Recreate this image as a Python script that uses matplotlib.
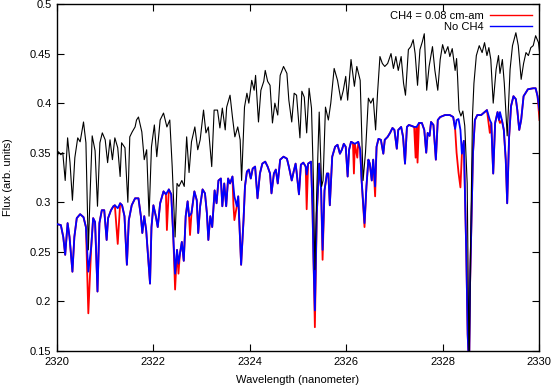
import matplotlib
matplotlib.use("Agg")
import matplotlib.pyplot as plt

plt.rcParams['font.family'] = ['Liberation Sans', 'DejaVu Sans']

# ---- No-CH4 reference (black, unlabeled) ----
wl_black = [2320.00, 2320.03, 2320.08, 2320.12, 2320.17, 2320.22, 2320.27, 2320.32, 2320.37, 2320.43,
            2320.48, 2320.55, 2320.60, 2320.65, 2320.68, 2320.73, 2320.79, 2320.84, 2320.89, 2320.94,
            2321.00, 2321.05, 2321.10, 2321.15, 2321.20, 2321.26, 2321.31, 2321.34, 2321.41, 2321.47,
            2321.51, 2321.56, 2321.62, 2321.65, 2321.69, 2321.76, 2321.81, 2321.86, 2321.91, 2321.96,
            2322.02, 2322.07, 2322.14, 2322.21, 2322.28, 2322.34, 2322.39, 2322.45, 2322.49, 2322.53,
            2322.59, 2322.64, 2322.69, 2322.74, 2322.79, 2322.86, 2322.92, 2322.97, 2323.04, 2323.09,
            2323.14, 2323.21, 2323.26, 2323.33, 2323.38, 2323.43, 2323.49, 2323.52, 2323.59, 2323.64,
            2323.69, 2323.75, 2323.80, 2323.83, 2323.89, 2323.94, 2323.98, 2324.04, 2324.09, 2324.12,
            2324.18, 2324.23, 2324.29, 2324.32, 2324.37, 2324.42, 2324.47, 2324.52, 2324.58, 2324.63,
            2324.70, 2324.77, 2324.81, 2324.87, 2324.92, 2324.97, 2324.99, 2325.04, 2325.08, 2325.13,
            2325.18, 2325.23, 2325.28, 2325.32, 2325.35, 2325.39, 2325.44, 2325.49, 2325.52, 2325.57,
            2325.63, 2325.68, 2325.75, 2325.82, 2325.89, 2325.94, 2325.99, 2326.03, 2326.10, 2326.17,
            2326.22, 2326.29, 2326.35, 2326.40, 2326.46, 2326.51, 2326.56, 2326.61, 2326.65, 2326.70,
            2326.75, 2326.80, 2326.86, 2326.93, 2326.98, 2327.03, 2327.08, 2327.14, 2327.19, 2327.23,
            2327.29, 2327.34, 2327.39, 2327.43, 2327.48, 2327.53, 2327.58, 2327.62, 2327.67, 2327.72,
            2327.79, 2327.84, 2327.90, 2327.95, 2328.00, 2328.05, 2328.11, 2328.15, 2328.20, 2328.26,
            2328.29, 2328.31, 2328.34, 2328.38, 2328.42, 2328.46, 2328.51, 2328.55, 2328.58, 2328.62,
            2328.65, 2328.70, 2328.76, 2328.82, 2328.87, 2328.92, 2328.96, 2329.00, 2329.05, 2329.11,
            2329.16, 2329.19, 2329.24, 2329.28, 2329.34, 2329.40, 2329.45, 2329.52, 2329.57, 2329.63,
            2329.68, 2329.73, 2329.78, 2329.83, 2329.88, 2329.93, 2329.99, 2330.01]
flux_black = [0.345, 0.351, 0.348, 0.350, 0.322, 0.365, 0.340, 0.302, 0.345, 0.365,
              0.361, 0.381, 0.360, 0.252, 0.299, 0.367, 0.352, 0.296, 0.360, 0.370,
              0.363, 0.340, 0.363, 0.343, 0.365, 0.355, 0.326, 0.360, 0.355, 0.300,
              0.366, 0.371, 0.376, 0.383, 0.386, 0.371, 0.343, 0.353, 0.286, 0.356,
              0.378, 0.346, 0.383, 0.390, 0.376, 0.383, 0.336, 0.265, 0.319, 0.316,
              0.322, 0.316, 0.366, 0.330, 0.361, 0.376, 0.353, 0.363, 0.393, 0.370,
              0.376, 0.336, 0.393, 0.393, 0.375, 0.395, 0.373, 0.396, 0.408, 0.386,
              0.366, 0.376, 0.363, 0.322, 0.396, 0.410, 0.400, 0.423, 0.413, 0.428,
              0.381, 0.413, 0.422, 0.433, 0.422, 0.418, 0.380, 0.400, 0.388, 0.428,
              0.437, 0.430, 0.403, 0.381, 0.410, 0.408, 0.396, 0.365, 0.412, 0.406,
              0.370, 0.415, 0.395, 0.322, 0.232, 0.313, 0.391, 0.316, 0.322, 0.396,
              0.383, 0.400, 0.435, 0.423, 0.403, 0.413, 0.427, 0.403, 0.444, 0.417,
              0.437, 0.423, 0.322, 0.350, 0.405, 0.400, 0.405, 0.373, 0.410, 0.447,
              0.440, 0.437, 0.440, 0.450, 0.435, 0.447, 0.433, 0.447, 0.420, 0.408,
              0.454, 0.457, 0.464, 0.450, 0.418, 0.454, 0.462, 0.470, 0.413, 0.437,
              0.457, 0.433, 0.413, 0.444, 0.459, 0.450, 0.457, 0.447, 0.455, 0.433,
              0.445, 0.427, 0.393, 0.387, 0.392, 0.377, 0.319, 0.130, 0.252, 0.387,
              0.420, 0.448, 0.458, 0.451, 0.461, 0.448, 0.456, 0.444, 0.400, 0.434,
              0.448, 0.430, 0.444, 0.420, 0.367, 0.434, 0.458, 0.471, 0.458, 0.424,
              0.440, 0.451, 0.448, 0.456, 0.458, 0.468, 0.461, 0.452]

# ---- "No CH4" (blue) ----
wl_noch4 = [2320.00, 2320.08, 2320.13, 2320.17, 2320.22, 2320.26, 2320.32, 2320.36, 2320.41, 2320.48,
            2320.55, 2320.60, 2320.65, 2320.71, 2320.75, 2320.79, 2320.84, 2320.88, 2320.93, 2320.98,
            2321.03, 2321.06, 2321.12, 2321.17, 2321.20, 2321.26, 2321.31, 2321.35, 2321.40, 2321.45,
            2321.49, 2321.55, 2321.62, 2321.69, 2321.74, 2321.77, 2321.81, 2321.85, 2321.89, 2321.93,
            2321.96, 2322.00, 2322.05, 2322.09, 2322.14, 2322.21, 2322.26, 2322.32, 2322.37, 2322.41,
            2322.45, 2322.49, 2322.52, 2322.55, 2322.59, 2322.63, 2322.67, 2322.71, 2322.74, 2322.79,
            2322.85, 2322.90, 2322.93, 2322.97, 2323.02, 2323.07, 2323.11, 2323.14, 2323.18, 2323.22,
            2323.27, 2323.31, 2323.35, 2323.40, 2323.43, 2323.47, 2323.51, 2323.55, 2323.59, 2323.64,
            2323.68, 2323.73, 2323.76, 2323.82, 2323.87, 2323.90, 2323.94, 2323.98, 2324.02, 2324.06,
            2324.11, 2324.16, 2324.21, 2324.26, 2324.32, 2324.37, 2324.42, 2324.45, 2324.50, 2324.54,
            2324.58, 2324.63, 2324.70, 2324.77, 2324.81, 2324.87, 2324.91, 2324.95, 2324.97, 2325.02,
            2325.06, 2325.11, 2325.16, 2325.18, 2325.21, 2325.27, 2325.30, 2325.32, 2325.35, 2325.39,
            2325.44, 2325.48, 2325.51, 2325.55, 2325.60, 2325.63, 2325.66, 2325.71, 2325.77, 2325.82,
            2325.87, 2325.91, 2325.95, 2325.99, 2326.03, 2326.06, 2326.10, 2326.14, 2326.18, 2326.25,
            2326.29, 2326.32, 2326.38, 2326.42, 2326.46, 2326.49, 2326.53, 2326.56, 2326.60, 2326.63,
            2326.67, 2326.72, 2326.77, 2326.80, 2326.86, 2326.91, 2326.96, 2327.00, 2327.05, 2327.08,
            2327.14, 2327.18, 2327.22, 2327.26, 2327.30, 2327.36, 2327.41, 2327.46, 2327.51, 2327.57,
            2327.62, 2327.66, 2327.69, 2327.73, 2327.76, 2327.81, 2327.86, 2327.90, 2327.95, 2328.05,
            2328.15, 2328.22, 2328.26, 2328.29, 2328.33, 2328.37, 2328.40, 2328.44, 2328.49, 2328.52,
            2328.55, 2328.57, 2328.60, 2328.63, 2328.67, 2328.72, 2328.80, 2328.87, 2328.92, 2328.98,
            2329.01, 2329.05, 2329.09, 2329.14, 2329.17, 2329.19, 2329.23, 2329.27, 2329.31, 2329.34,
            2329.38, 2329.42, 2329.47, 2329.52, 2329.55, 2329.59, 2329.63, 2329.68, 2329.77, 2329.88,
            2329.93, 2329.97, 2330.01]
flux_noch4 = [0.278, 0.277, 0.265, 0.247, 0.279, 0.265, 0.230, 0.265, 0.284, 0.288,
              0.285, 0.275, 0.230, 0.255, 0.284, 0.280, 0.210, 0.279, 0.292, 0.292,
              0.262, 0.284, 0.292, 0.296, 0.297, 0.294, 0.299, 0.297, 0.286, 0.237,
              0.282, 0.297, 0.304, 0.304, 0.286, 0.269, 0.286, 0.272, 0.245, 0.218,
              0.275, 0.297, 0.286, 0.275, 0.299, 0.311, 0.308, 0.313, 0.308, 0.269,
              0.228, 0.252, 0.238, 0.248, 0.260, 0.241, 0.286, 0.301, 0.286, 0.289,
              0.311, 0.302, 0.269, 0.296, 0.313, 0.309, 0.289, 0.262, 0.286, 0.275,
              0.312, 0.299, 0.322, 0.324, 0.296, 0.319, 0.296, 0.324, 0.319, 0.326,
              0.306, 0.296, 0.306, 0.237, 0.282, 0.316, 0.331, 0.333, 0.324, 0.334,
              0.336, 0.304, 0.329, 0.339, 0.341, 0.336, 0.329, 0.309, 0.329, 0.333,
              0.319, 0.343, 0.346, 0.344, 0.336, 0.322, 0.331, 0.339, 0.331, 0.308,
              0.338, 0.340, 0.336, 0.328, 0.339, 0.341, 0.296, 0.245, 0.191, 0.289,
              0.339, 0.312, 0.252, 0.312, 0.329, 0.329, 0.297, 0.346, 0.356, 0.358,
              0.349, 0.353, 0.359, 0.356, 0.326, 0.353, 0.361, 0.360, 0.359, 0.361,
              0.353, 0.322, 0.279, 0.316, 0.343, 0.339, 0.322, 0.343, 0.316, 0.356,
              0.364, 0.363, 0.349, 0.363, 0.366, 0.370, 0.375, 0.373, 0.354, 0.373,
              0.376, 0.366, 0.339, 0.376, 0.378, 0.377, 0.376, 0.376, 0.380, 0.380,
              0.373, 0.350, 0.370, 0.367, 0.381, 0.378, 0.343, 0.383, 0.386, 0.388,
              0.388, 0.386, 0.374, 0.383, 0.384, 0.373, 0.349, 0.362, 0.252, 0.167,
              0.130, 0.218, 0.285, 0.349, 0.383, 0.388, 0.388, 0.391, 0.393, 0.383,
              0.380, 0.329, 0.380, 0.391, 0.383, 0.391, 0.383, 0.373, 0.343, 0.299,
              0.366, 0.397, 0.407, 0.404, 0.393, 0.373, 0.383, 0.407, 0.414, 0.415,
              0.415, 0.407, 0.393]

# ---- "CH4 = 0.08 cm-am" (red): points where it departs from the blue curve ----
wl_ch4_diff = [2320.65, 2321.26, 2322.28, 2322.45, 2322.52, 2322.76, 2323.66, 2323.68, 2325.18, 2325.35,
               2325.51, 2326.16, 2326.23, 2326.38, 2326.60, 2327.44, 2327.48, 2328.29, 2328.33, 2328.37,
               2328.98, 2329.19, 2330.01]
flux_ch4_diff = [0.188, 0.258, 0.272, 0.212, 0.228, 0.267, 0.298, 0.282, 0.293, 0.174,
                 0.242, 0.329, 0.345, 0.275, 0.306, 0.345, 0.340, 0.350, 0.330, 0.315,
                 0.370, 0.380, 0.383]

x_ticks = [2320, 2322, 2324, 2326, 2328, 2330]
x_tick_labels = ['2320', '2322', '2324', '2326', '2328', '2330']
y_ticks = [0.15, 0.2, 0.25, 0.3, 0.35, 0.4, 0.45, 0.5]
y_tick_labels = ['0.15', '0.2', '0.25', '0.3', '0.35', '0.4', '0.45', '0.5']

# build the CH4 series: blue curve with the deeper CH4 absorption points
ch4 = dict(zip(wl_noch4, flux_noch4))
ch4.update(zip(wl_ch4_diff, flux_ch4_diff))
wl_ch4 = sorted(ch4)
flux_ch4 = [ch4[w] for w in wl_ch4]

fig = plt.figure(figsize=(5.51, 3.87), dpi=100)
ax = fig.add_axes([57 / 551, 1 - 351 / 387, (539 - 57) / 551, (351 - 4) / 387])

ax.plot(wl_ch4, flux_ch4, color='#ff0000', lw=1.3, label='CH4 = 0.08 cm-am', zorder=2,
        solid_joinstyle='round')
ax.plot(wl_noch4, flux_noch4, color='#0000ff', lw=1.3, label='No CH4', zorder=3,
        solid_joinstyle='round')
ax.plot(wl_black, flux_black, color='black', lw=0.8, zorder=4)

ax.set_xlim(2320, 2330)
ax.set_ylim(0.15, 0.5)
ax.set_xticks(x_ticks)
ax.set_xticklabels(x_tick_labels)
ax.set_yticks(y_ticks)
ax.set_yticklabels(y_tick_labels)
ax.tick_params(direction='in', length=5, width=0.8, top=True, right=True,
               labelsize=8, pad=4)
for s in ax.spines.values():
    s.set_linewidth(1.0)

ax.set_xlabel('Wavelength (nanometer)', fontsize=8, labelpad=6)
ax.set_ylabel('Flux (arb. units)', fontsize=8, labelpad=12)

leg = ax.legend(loc='upper right', frameon=False, markerfirst=False, fontsize=8,
                handlelength=3.8, handletextpad=0.6, labelspacing=0.1,
                borderpad=0.1, borderaxespad=0.5)
for line in leg.get_lines():
    line.set_linewidth(1.0)

fig.savefig('out.png', dpi=100)
